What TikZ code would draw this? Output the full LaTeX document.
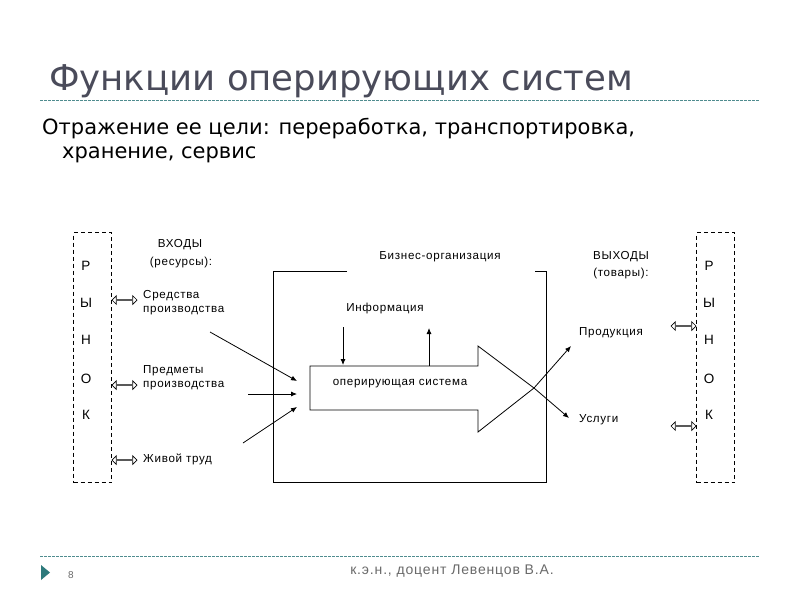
\documentclass[tikz,border=0pt]{standalone}
\usepackage{fontspec}
\setmainfont{Liberation Sans}
\newfontfamily\titlefont{DejaVu Sans}
\usetikzlibrary{arrows.meta,shapes.arrows}
\definecolor{titlegray}{HTML}{4A4B5A}
\definecolor{accentteal}{HTML}{4F8C8F}
\definecolor{markteal}{HTML}{2E7A7C}
\definecolor{footgray}{HTML}{6A6A6A}
\begin{document}
\begin{tikzpicture}[x=1pt,y=-1pt,
  lbl/.style={font=\fontsize{11.6}{13}\selectfont\addfontfeatures{LetterSpace=6}, inner sep=0, text=black},
  llbl/.style={lbl, anchor=west},
  market/.style={draw, dash pattern=on 4pt off 3pt, line width=0.8pt, minimum width=38pt, minimum height=250pt, inner sep=0},
  mletter/.style={font=\fontsize{13.5}{15}\selectfont, inner sep=0},
  dbl/.style={double arrow, draw, line width=0.7pt, minimum height=25pt, minimum width=8.5pt, double arrow head extend=2pt, inner sep=0pt},
  thin/.style={line width=0.8pt},
  arr/.style={thin, -{Latex[length=6pt,width=5pt]}},
  guide/.style={accentteal, line width=0.8pt, dash pattern=on 2.5pt off 1.5pt}
]
\useasboundingbox (0,0) rectangle (800,600);
\fill[white] (0,0) rectangle (800,600);

% header
\node[anchor=base west, inner sep=0, text=titlegray, font=\titlefont\fontsize{35.5}{40}\selectfont] (title) at (49,90) {Функции оперирующих систем};
\coordinate (g1a) at (40,100);
\coordinate (g1b) at (760,100);
\draw[guide] (g1a) -- (g1b);
\node[anchor=base west, inner sep=0, font=\titlefont\fontsize{21}{24}\selectfont] (sub1) at (42,134) {Отражение ее цели: переработка, транспортировка,};
\node[anchor=base west, inner sep=0, font=\titlefont\fontsize{21}{24}\selectfont] (sub2) at (62,158) {хранение, сервис};

% markets
\node[market] (mL) at (92.5,357.5) {};
\node[market] (mR) at (715.5,357.5) {};
\foreach \ch/\yy [count=\i] in {Р/266,Ы/303,Н/340,О/379,К/415}{
  \node[mletter] (mL\i) at (86,\yy) {\ch};
  \node[mletter] (mR\i) at (709,\yy) {\ch};
}

% inputs
\node[lbl] (vx) at (180,245) {ВХОДЫ};
\node[lbl] (vxr) at (181,262) {(ресурсы):};
\node[llbl] (sp1) at (143,296) {Средства};
\node[llbl] (sp2) at (143,311) {производства};
\node[llbl] (pp1) at (143,371) {Предметы};
\node[llbl] (pp2) at (143,386) {производства};
\node[llbl] (zt) at (143,459) {Живой труд};
\node[dbl] (dL1) at (124.5,300) {};
\node[dbl] (dL2) at (124.5,385) {};
\node[dbl] (dL3) at (124.5,460) {};

% outputs
\node[lbl] (vy) at (621,257) {ВЫХОДЫ};
\node[lbl] (vyt) at (621,273) {(товары):};
\node[llbl] (prod) at (579,333) {Продукция};
\node[llbl] (usl) at (579,420) {Услуги};
\node[dbl] (dR1) at (683.5,326) {};
\node[dbl] (dR2) at (683.5,426) {};

% business organisation box
\coordinate (b1) at (347,271);
\coordinate (b2) at (273,271);
\coordinate (b3) at (273,482);
\coordinate (b4) at (546,482);
\coordinate (b5) at (546,271);
\coordinate (b6) at (535,271);
\draw[thin] (b1) -- (b2) -- (b3) -- (b4) -- (b5) -- (b6);
\node[lbl] (biz) at (440,257) {Бизнес-организация};

% operating system arrow
\coordinate (a1) at (310,366);
\coordinate (a2) at (478,366);
\coordinate (a3) at (478,346);
\coordinate (tip) at (534,388);
\coordinate (a5) at (478,432);
\coordinate (a6) at (478,410);
\coordinate (a7) at (310,410);
\draw[thin, fill=white] (a1) -- (a2) -- (a3) -- (tip) -- (a5) -- (a6) -- (a7) -- cycle;
\node[lbl] (os) at (400,384) {оперирующая система};

% information
\node[lbl] (info) at (385,308) {Информация};
\coordinate (i1s) at (343,327);
\coordinate (i1e) at (343,365);
\coordinate (i2s) at (429,366);
\coordinate (i2e) at (429,328);
\draw[arr] (i1s) -- (i1e);
\draw[arr] (i2s) -- (i2e);

% input arrows
\coordinate (in1s) at (210,332);
\coordinate (in1e) at (297,381);
\coordinate (in2s) at (248,394);
\coordinate (in2e) at (297,394);
\coordinate (in3s) at (243,443);
\coordinate (in3e) at (297,407);
\draw[arr] (in1s) -- (in1e);
\draw[arr] (in2s) -- (in2e);
\draw[arr] (in3s) -- (in3e);

% output arrows
\coordinate (o1e) at (571,346);
\coordinate (o2e) at (569,418);
\draw[arr] (tip) -- (o1e);
\draw[arr] (tip) -- (o2e);

% footer
\coordinate (g2a) at (40,556);
\coordinate (g2b) at (760,556);
\draw[guide] (g2a) -- (g2b);
\fill[markteal] (41,565) -- (50,572.5) -- (41,580) -- cycle;
\node[inner sep=0, text=footgray, font=\fontsize{10}{12}\selectfont] (pg) at (71,575) {8};
\node[inner sep=0, text=footgray, font=\fontsize{14}{16}\selectfont\addfontfeatures{LetterSpace=6}] (auth) at (452,571) {к.э.н., доцент Левенцов В.А.};
\end{tikzpicture}
\end{document}
